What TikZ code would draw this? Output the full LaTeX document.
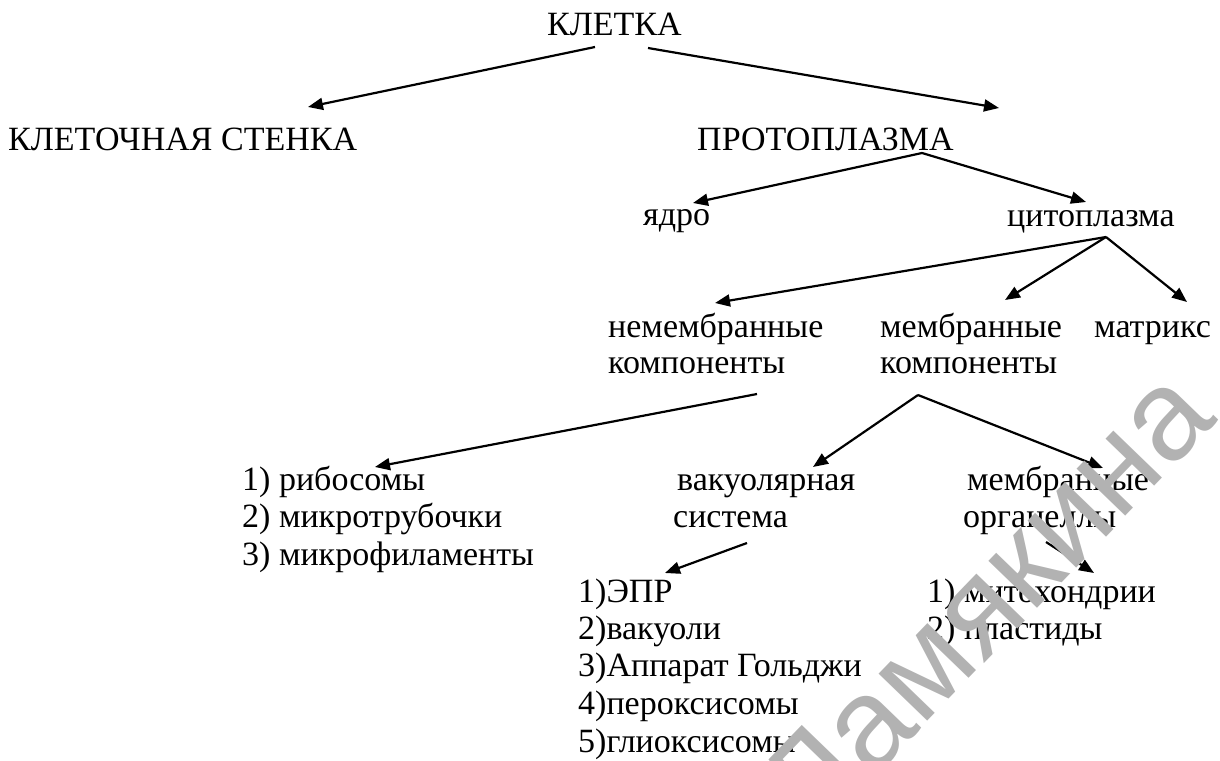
\documentclass[tikz,border=0pt]{standalone}
\usepackage{fontspec}
\setmainfont{Liberation Serif}
\newfontfamily\tnr{Liberation Serif}
\newfontfamily\wmfont{Liberation Sans}
\usetikzlibrary{arrows.meta}
\begin{document}
\begin{tikzpicture}[x=1pt,y=-1pt,
  lbl/.style={anchor=base west,inner sep=0pt,font=\tnr\fontsize{34}{37.5}\selectfont},
  arr/.style={line width=2.2pt,-{Triangle[length=15pt,width=12pt]}}]
\useasboundingbox (0,0) rectangle (1220,760);
% texts
\node[lbl] (kl) at (547,36) {КЛЕТКА};
\node[lbl] (st) at (8,150) {КЛЕТОЧНАЯ СТЕНКА};
\node[lbl] (pr) at (697,150) {ПРОТОПЛАЗМА};
\node[lbl] (ya) at (643,225) {ядро};
\node[lbl] (ci) at (1007,226) {цитоплазма};
\node[lbl] (nm1) at (608,337) {немембранные};
\node[lbl] (nm2) at (608,373) {компоненты};
\node[lbl] (mk1) at (880,337) {мембранные};
\node[lbl] (mk2) at (880,373) {компоненты};
\node[lbl] (ma) at (1094,337) {матрикс};
\node[lbl] (r1) at (242,490) {1) рибосомы};
\node[lbl] (r2) at (242,527) {2) микротрубочки};
\node[lbl] (r3) at (242,565) {3) микрофиламенты};
\node[lbl] (va1) at (677,490) {вакуолярная};
\node[lbl] (va2) at (673,527) {система};
\node[lbl] (mo1) at (967,490) {мембранные};
\node[lbl] (mo2) at (963,527) {органеллы};
\node[lbl] (e1) at (578,602) {1)ЭПР};
\node[lbl] (e2) at (578,639) {2)вакуоли};
\node[lbl] (e3) at (578,676) {3)Аппарат Гольджи};
\node[lbl] (e4) at (578,714) {4)пероксисомы};
\node[lbl] (e5) at (578,752) {5)глиоксисомы};
\node[lbl] (t1) at (927,602) {1) митохондрии};
\node[lbl] (t2) at (927,639) {2) пластиды};
% connector ends
\coordinate (klL) at (595,47);
\coordinate (klR) at (648,48);
\coordinate (stT) at (308,107);
\coordinate (prT) at (999,108);
\coordinate (prB) at (922,153);
\coordinate (yaT) at (693,203);
\coordinate (ciT) at (1086,202);
\coordinate (ciB) at (1106,237);
\coordinate (nmT) at (715,303);
\coordinate (mkT) at (1005,300);
\coordinate (maT) at (1187,302);
\coordinate (nmB) at (757,394);
\coordinate (mkB) at (918,395);
\coordinate (rT) at (375,467);
\coordinate (vaT) at (813,467);
\coordinate (moT) at (1103,468);
\coordinate (vaB) at (747,543);
\coordinate (eT) at (665,573);
\coordinate (moB) at (1046,542);
\coordinate (tT) at (1094,573);
% connectors
\draw[arr] (klL) -- (stT);
\draw[arr] (klR) -- (prT);
\draw[arr] (prB) -- (yaT);
\draw[arr] (prB) -- (ciT);
\draw[arr] (ciB) -- (nmT);
\draw[arr] (ciB) -- (mkT);
\draw[arr] (ciB) -- (maT);
\draw[arr] (nmB) -- (rT);
\draw[arr] (mkB) -- (vaT);
\draw[arr] (mkB) -- (moT);
\draw[arr] (vaB) -- (eT);
\draw[arr] (moB) -- (tT);
% watermark
\node[rotate=46,text=black!30,font=\wmfont\fontsize{128}{130}\selectfont,inner sep=0pt] (wm) at (985,600) {Ламякина};
\end{tikzpicture}
\end{document}
